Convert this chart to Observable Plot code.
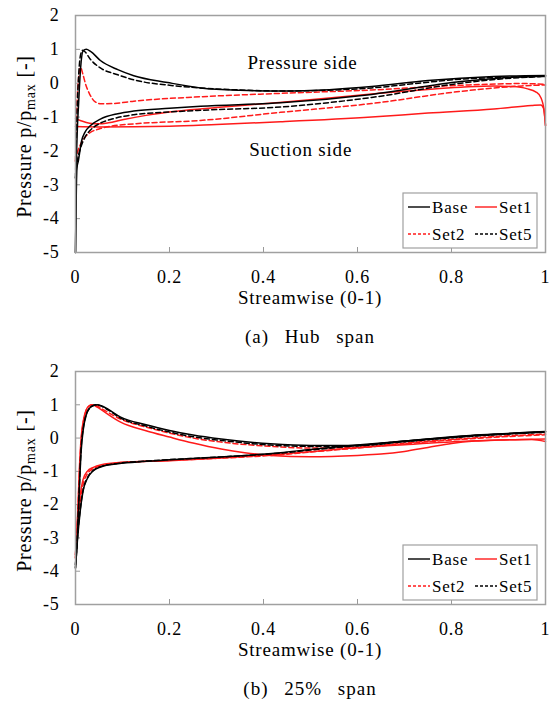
<!DOCTYPE html>
<html><head><meta charset="utf-8">
<script src="https://cdn.jsdelivr.net/npm/d3@7"></script>
<script src="https://cdn.jsdelivr.net/npm/@observablehq/plot@0.6"></script>
<style>
body{margin:0;background:#fff;}
#wrap{position:relative;width:551px;height:704px;font-family:"Liberation Serif",serif;color:#000;}
#wrap svg{position:absolute;left:0;}
#wrap svg text{letter-spacing:0.8px;}
.cap{position:absolute;left:75px;width:470px;text-align:center;font-size:19px;line-height:20px;letter-spacing:1px;word-spacing:10px;}
</style></head><body><div id="wrap"></div>
<script>
// ---------- data ----------
const xTicks = [0, 0.2, 0.4, 0.6, 0.8, 1];
const yTicks = [2, 1, 0, -1, -2, -3, -4, -5];
const legendOrder = ["Base", "Set1", "Set2", "Set5"];
const drawOrder = ["Set1", "Set2", "Base", "Set5"];
const xTitle = "Streamwise (0-1)";
const captions = ["(a) Hub span", "(b) 25% span"];

// (a) Hub span : [streamwise, p/pmax]  P = pressure side, S = suction side
const hubBaseP = [[0,-5],[0.002,-2.3],[0.007,-0.5],[0.011,0.47],[0.016,0.95],[0.023,1.0],[0.032,0.94],[0.053,0.67],[0.09,0.4],[0.124,0.22],[0.196,0.02],[0.266,-0.14],[0.35,-0.21],[0.436,-0.23],[0.54,-0.19],[0.63,-0.1],[0.75,0.08],[0.89,0.2],[1.0,0.23]];
const hubBaseS = [[0,-5],[0.003,-2.5],[0.006,-2.3],[0.013,-1.7],[0.02,-1.45],[0.032,-1.25],[0.053,-1.06],[0.09,-0.9],[0.124,-0.82],[0.2,-0.74],[0.266,-0.68],[0.436,-0.58],[0.63,-0.33],[0.82,0.05],[0.9,0.15],[1.0,0.22]];
const hubSet1P = [[0,-1.05],[0.01,-1.1],[0.03,-1.18],[0.05,-1.2],[0.07,-1.17],[0.1,-1.08],[0.15,-0.95],[0.22,-0.82],[0.3,-0.72],[0.44,-0.56],[0.63,-0.32],[0.82,-0.12],[0.89,-0.08],[0.93,-0.1],[0.96,-0.16],[0.98,-0.26],[0.99,-0.42],[0.997,-0.8],[1.0,-1.25]];
const hubSet1S = [[0,-1.28],[0.05,-1.29],[0.2,-1.27],[0.3,-1.22],[0.436,-1.14],[0.63,-1.0],[0.75,-0.88],[0.89,-0.76],[0.97,-0.66],[0.99,-0.64],[0.996,-0.75],[1.0,-1.25]];
const hubSet2P = [[0,-2.3],[0.003,-0.7],[0.007,0.2],[0.011,0.47],[0.015,0.3],[0.022,-0.05],[0.03,-0.32],[0.042,-0.55],[0.055,-0.61],[0.08,-0.6],[0.124,-0.53],[0.266,-0.4],[0.436,-0.3],[0.63,-0.2],[0.82,-0.06],[0.95,-0.01],[1.0,-0.03]];
const hubSet2S = [[0,-2.3],[0.004,-2.05],[0.011,-1.8],[0.02,-1.6],[0.03,-1.47],[0.05,-1.35],[0.075,-1.27],[0.124,-1.2],[0.266,-1.1],[0.436,-0.86],[0.63,-0.6],[0.82,-0.24],[0.95,-0.08],[1.0,-0.05]];
const hubSet5P = [[0,-2.8],[0.003,-1.0],[0.007,0.3],[0.011,0.85],[0.015,0.97],[0.02,0.93],[0.032,0.7],[0.053,0.45],[0.09,0.25],[0.124,0.1],[0.2,-0.06],[0.266,-0.14],[0.35,-0.2],[0.44,-0.23],[0.55,-0.2],[0.63,-0.14],[0.75,0.03],[0.82,0.12],[0.9,0.17],[1.0,0.2]];
const hubSet5S = [[0,-2.8],[0.004,-2.3],[0.01,-1.95],[0.02,-1.6],[0.032,-1.38],[0.05,-1.2],[0.08,-1.05],[0.124,-0.93],[0.2,-0.85],[0.266,-0.8],[0.44,-0.7],[0.63,-0.42],[0.82,0.0],[0.9,0.12],[1.0,0.2]];

// (b) 25% span
const s25BaseP = [[0,-3.9],[0.004,-3.0],[0.008,-1.6],[0.012,-0.4],[0.017,0.3],[0.023,0.7],[0.03,0.9],[0.038,0.98],[0.046,1.0],[0.055,0.97],[0.07,0.86],[0.096,0.63],[0.15,0.4],[0.2,0.23],[0.25,0.09],[0.31,-0.03],[0.415,-0.17],[0.5,-0.22],[0.59,-0.22],[0.7,-0.09],[0.84,0.08],[0.92,0.14],[1.0,0.2]];
const s25BaseS = [[0,-3.9],[0.004,-3.1],[0.01,-2.2],[0.016,-1.6],[0.025,-1.22],[0.038,-0.98],[0.055,-0.86],[0.09,-0.77],[0.15,-0.7],[0.266,-0.6],[0.436,-0.44],[0.5,-0.34],[0.58,-0.23],[0.7,-0.09],[0.84,0.07],[1.0,0.19]];
const s25Set1P = [[0,-3.5],[0.004,-2.5],[0.008,-1.0],[0.012,0.0],[0.017,0.55],[0.022,0.82],[0.028,0.96],[0.036,1.0],[0.045,0.94],[0.06,0.8],[0.096,0.48],[0.15,0.22],[0.2,0.03],[0.25,-0.15],[0.31,-0.33],[0.36,-0.44],[0.415,-0.52],[0.5,-0.56],[0.6,-0.52],[0.65,-0.48],[0.7,-0.4],[0.75,-0.28],[0.8,-0.16],[0.85,-0.09],[0.9,-0.06],[0.97,-0.04],[1.0,-0.1]];
const s25Set1S = [[0,-3.5],[0.004,-2.5],[0.01,-1.7],[0.016,-1.25],[0.025,-1.0],[0.038,-0.88],[0.055,-0.8],[0.096,-0.73],[0.2,-0.68],[0.31,-0.6],[0.415,-0.5],[0.5,-0.41],[0.59,-0.3],[0.7,-0.2],[0.84,-0.09],[0.95,-0.04],[1.0,-0.03]];
const s25Set2P = [[0,-3.6],[0.004,-2.6],[0.008,-1.2],[0.012,-0.1],[0.017,0.5],[0.022,0.8],[0.028,0.95],[0.036,1.0],[0.045,0.97],[0.06,0.85],[0.096,0.57],[0.15,0.33],[0.2,0.15],[0.25,0.0],[0.31,-0.12],[0.415,-0.25],[0.5,-0.3],[0.59,-0.28],[0.7,-0.15],[0.84,0.0],[0.92,0.07],[1.0,0.12]];
const s25Set2S = [[0,-3.6],[0.004,-2.7],[0.01,-1.9],[0.016,-1.4],[0.025,-1.08],[0.038,-0.92],[0.055,-0.83],[0.09,-0.75],[0.15,-0.7],[0.266,-0.63],[0.436,-0.5],[0.5,-0.42],[0.6,-0.3],[0.7,-0.17],[0.84,-0.02],[1.0,0.1]];
const s25Set5P = [[0,-3.8],[0.004,-2.9],[0.008,-1.5],[0.012,-0.3],[0.017,0.35],[0.023,0.72],[0.03,0.9],[0.038,0.98],[0.045,1.0],[0.055,0.96],[0.07,0.84],[0.096,0.6],[0.15,0.36],[0.2,0.18],[0.25,0.04],[0.31,-0.07],[0.415,-0.21],[0.5,-0.25],[0.59,-0.24],[0.7,-0.11],[0.84,0.05],[0.92,0.12],[1.0,0.18]];
const s25Set5S = [[0,-3.8],[0.004,-3.0],[0.01,-2.15],[0.016,-1.57],[0.025,-1.2],[0.038,-0.97],[0.055,-0.85],[0.09,-0.76],[0.15,-0.69],[0.266,-0.6],[0.436,-0.45],[0.5,-0.36],[0.58,-0.25],[0.7,-0.1],[0.84,0.06],[1.0,0.18]];

const hubNotes = [{label: "Pressure side", x: 0.483, y: 0.61}, {label: "Suction side", x: 0.479, y: -1.98}];

// ---------- styles ----------
const seriesStyle = {
  Base: {stroke: "#000000", dash: null},
  Set1: {stroke: "#ff1a1a", dash: null},
  Set2: {stroke: "#ff1a1a", dash: "5,3"},
  Set5: {stroke: "#000000", dash: "5,3"}
};
const FONT = "Liberation Serif, serif";
const W = 551, ML = 75, MR = 6, MT = 15, MB = 58;

function buildRows(curves) {
  const rows = [];
  for (const name of drawOrder) {
    const [p, s] = curves[name];
    for (const [x, y] of p) rows.push({series: name, side: "pressure", x, y});
    for (const [x, y] of s) rows.push({series: name, side: "suction", x, y});
  }
  return rows;
}

function makePanel(curves, notes, height) {
  const rows = buildRows(curves);
  const plotH = height - MT - MB, plotW = W - ML - MR;
  const lines = drawOrder.map(name => Plot.line(rows.filter(r => r.series === name), {
    x: "x", y: "y", z: "side", stroke: seriesStyle[name].stroke,
    strokeDasharray: seriesStyle[name].dash, strokeWidth: 1.5, curve: "monotone-x"
  }));
  const svgEl = Plot.plot({
    width: W, height, marginTop: MT, marginLeft: ML, marginRight: MR, marginBottom: MB,
    style: {fontFamily: FONT, fontSize: "18px", color: "#000", background: "#fff", overflow: "visible"},
    x: {domain: [0, 1]}, y: {domain: [-5, 2]},
    marks: [
      Plot.tickX(xTicks, {x: d => d, stroke: "#999", insetTop: plotH - 5}),
      Plot.tickY(yTicks, {y: d => d, stroke: "#999", insetRight: plotW - 5}),
      Plot.axisX({ticks: xTicks, tickSize: 0, tickPadding: 18, tickFormat: d => String(d), fontSize: 18, label: null, fill: "#000"}),
      Plot.axisY({ticks: yTicks, tickSize: 0, tickPadding: 16, tickFormat: d => String(d), fontSize: 18, label: null, fill: "#000"}),
      ...lines,
      Plot.frame({stroke: "#a0a0a0", strokeWidth: 1.5}),
      Plot.text(notes, {x: "x", y: "y", text: "label", fontSize: 19, fill: "#000"})
    ]
  });
  const svg = d3.select(svgEl);
  const right = W - MR, bottom = height - MB;
  // x-axis title
  svg.append("text").attr("x", ML + plotW / 2).attr("y", bottom + 52)
    .attr("text-anchor", "middle").attr("font-size", 19).attr("font-family", FONT).attr("fill", "#000")
    .text(xTitle);
  // y-axis title with subscript
  const cy = MT + plotH / 2 + 3;
  const t = svg.append("text")
    .attr("transform", `translate(31,${cy}) rotate(-90)`)
    .attr("text-anchor", "middle").attr("font-size", 20).attr("font-family", FONT).attr("fill", "#000");
  t.append("tspan").text("Pressure p/p");
  t.append("tspan").attr("font-size", 14).attr("dy", 4).text("max");
  t.append("tspan").attr("dy", -4).text(" [-]");
  // legend box
  const g = svg.append("g");
  const bx = right - 142, by = bottom - 59;
  g.append("rect").attr("x", bx).attr("y", by).attr("width", 134).attr("height", 55)
    .attr("fill", "#fff").attr("stroke", "#a0a0a0").attr("stroke-width", 1.2);
  legendOrder.forEach((name, i) => {
    const col = i % 2, row = Math.floor(i / 2);
    const x0 = bx + (col ? 72 : 5), y0 = by + 14 + row * 27;
    g.append("line").attr("x1", x0).attr("x2", x0 + 22).attr("y1", y0).attr("y2", y0)
      .attr("stroke", seriesStyle[name].stroke).attr("stroke-width", 1.4)
      .attr("stroke-dasharray", seriesStyle[name].dash ? "3,2" : null);
    g.append("text").attr("x", x0 + 24).attr("y", y0).attr("dy", "0.35em")
      .attr("text-anchor", "start")
      .attr("font-size", 17).attr("font-family", FONT).attr("fill", "#000").text(name);
  });
  return svgEl;
}

const wrap = document.getElementById("wrap");
const p1 = makePanel({Base: [hubBaseP, hubBaseS], Set1: [hubSet1P, hubSet1S], Set2: [hubSet2P, hubSet2S], Set5: [hubSet5P, hubSet5S]}, hubNotes, 310);
p1.style.top = "0px";
wrap.appendChild(p1);
const c1 = document.createElement("div"); c1.className = "cap"; c1.style.top = "327px"; c1.textContent = captions[0]; wrap.appendChild(c1);
const p2 = makePanel({Base: [s25BaseP, s25BaseS], Set1: [s25Set1P, s25Set1S], Set2: [s25Set2P, s25Set2S], Set5: [s25Set5P, s25Set5S]}, [], 306);
p2.style.top = "356px";
wrap.appendChild(p2);
const c2 = document.createElement("div"); c2.className = "cap"; c2.style.top = "679px"; c2.textContent = captions[1]; wrap.appendChild(c2);
</script></body></html>
